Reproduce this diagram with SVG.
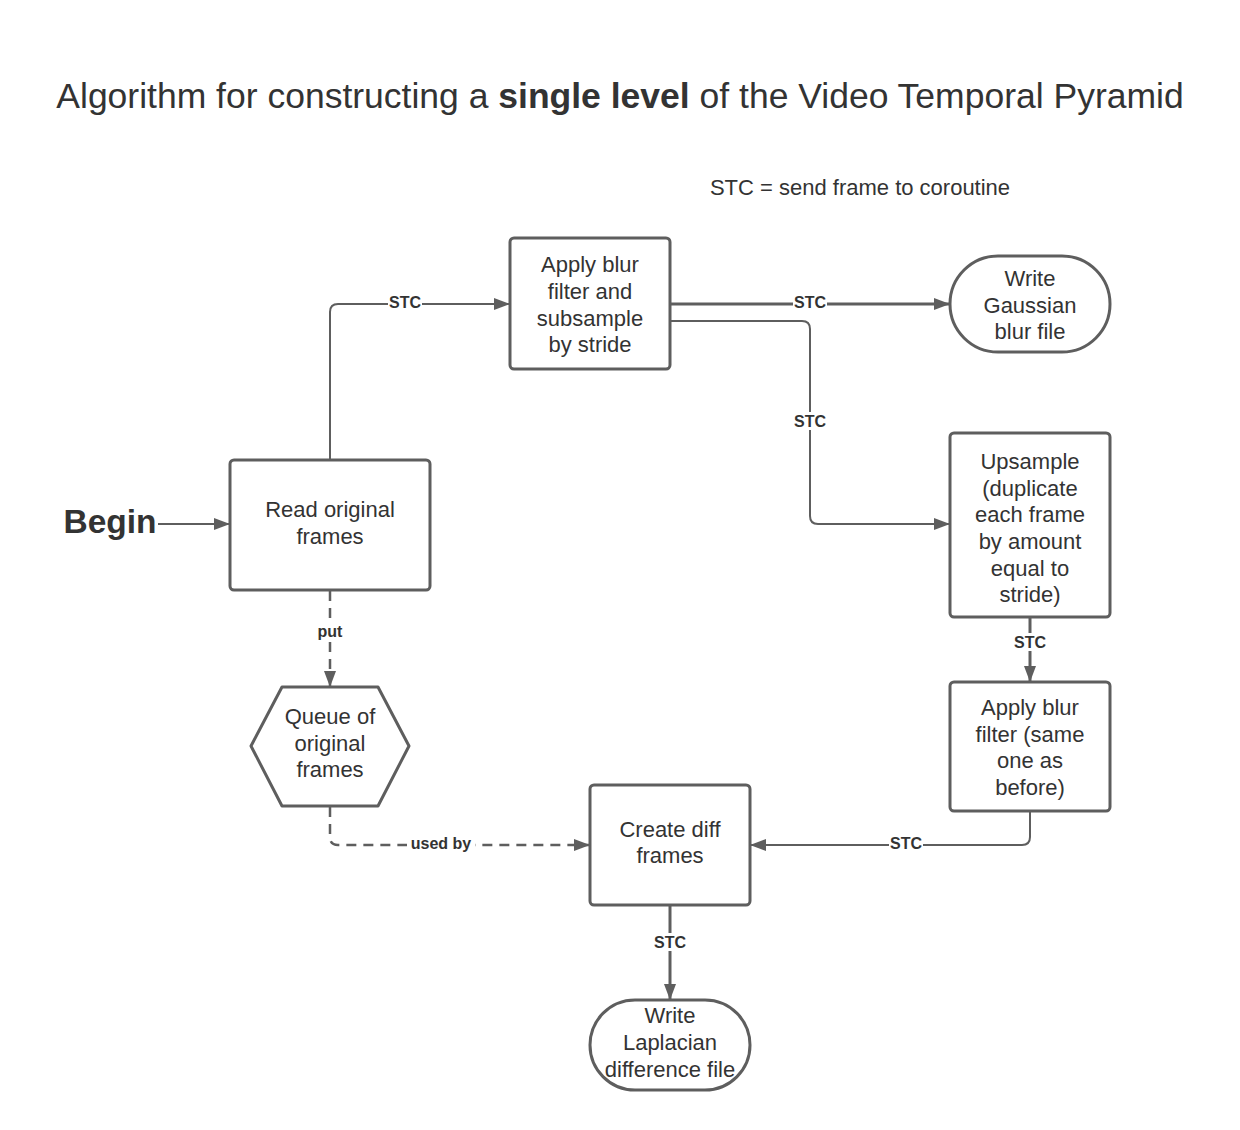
<svg xmlns="http://www.w3.org/2000/svg" width="1240" height="1130" viewBox="0 0 1240 1130">
<defs>
<style>
.n{fill:#fff;stroke:#5e5e5e;stroke-width:3}
.t{font-family:"Liberation Sans",Arial,sans-serif;font-size:22px;fill:#333;text-anchor:middle;dominant-baseline:central}
.l{font-family:"Liberation Sans",Arial,sans-serif;font-size:16px;font-weight:bold;fill:#333;text-anchor:middle;dominant-baseline:central}
.c{fill:none;stroke:#5e5e5e;stroke-width:2}
.k{fill:none;stroke:#5e5e5e;stroke-width:3}
.d{fill:none;stroke:#5e5e5e;stroke-width:2.5;stroke-dasharray:10,7}
.bg{fill:#fff}
</style>
<marker id="a" markerWidth="16" markerHeight="12" refX="15" refY="6" orient="auto" markerUnits="userSpaceOnUse">
<path d="M0,0 L16,6 L0,12 z" fill="#5e5e5e"/>
</marker>
</defs>
<rect width="1240" height="1130" fill="#fff"/>
<text x="620" y="96" font-family="Liberation Sans,Arial,sans-serif" font-size="35.5" fill="#333" text-anchor="middle" dominant-baseline="central">Algorithm for constructing a <tspan font-weight="bold">single level</tspan> of the Video Temporal Pyramid</text>
<text x="860" y="187" font-family="Liberation Sans,Arial,sans-serif" font-size="22" fill="#333" text-anchor="middle" dominant-baseline="central">STC = send frame to coroutine</text>
<text x="110" y="521" font-family="Liberation Sans,Arial,sans-serif" font-size="33.5" font-weight="bold" fill="#333" text-anchor="middle" dominant-baseline="central">Begin</text>

<g id="connectors">
<path class="c" d="M158,524 H229" marker-end="url(#a)"/>
<path class="c" d="M330,460 V312 Q330,304 338,304 H509" marker-end="url(#a)"/>
<rect class="bg" x="388" y="294" width="34" height="16"/>
<text class="l" x="405" y="302">STC</text>
<path class="k" d="M671,304 H949" marker-end="url(#a)"/>
<rect class="bg" x="793" y="294" width="34" height="16"/>
<text class="l" x="810" y="302">STC</text>
<path class="c" d="M671,321 H802 Q810,321 810,329 V516 Q810,524 818,524 H949" marker-end="url(#a)"/>
<rect class="bg" x="792" y="412" width="36" height="18"/>
<text class="l" x="810" y="421">STC</text>
<path class="k" d="M1030,618 V681" marker-end="url(#a)"/>
<rect class="bg" x="1012" y="633" width="36" height="18"/>
<text class="l" x="1030" y="642">STC</text>
<path class="c" d="M1030,812 V837 Q1030,845 1022,845 H751" marker-end="url(#a)"/>
<rect class="bg" x="889" y="835" width="34" height="16"/>
<text class="l" x="906" y="843">STC</text>
<path class="k" d="M670,906 V999" marker-end="url(#a)"/>
<rect class="bg" x="652" y="933" width="36" height="18"/>
<text class="l" x="670" y="942">STC</text>
<path class="d" d="M330,591 V686" marker-end="url(#a)"/>
<rect class="bg" x="316" y="622" width="28" height="18"/>
<text class="l" x="330" y="631">put</text>
<path class="d" d="M330,807 V837 Q330,845 338,845 H589" marker-end="url(#a)"/>
<rect class="bg" x="407" y="835" width="68" height="16"/>
<text class="l" x="441" y="843">used by</text>
</g>

<g id="read">
<rect class="n" x="230" y="460" width="200" height="130" rx="4"/>
<text class="t" x="330" y="509">Read original</text>
<text class="t" x="330" y="536">frames</text>
</g>
<g id="blur1">
<rect class="n" x="510" y="238" width="160" height="131" rx="4"/>
<text class="t" x="590" y="264">Apply blur</text>
<text class="t" x="590" y="291">filter and</text>
<text class="t" x="590" y="318">subsample</text>
<text class="t" x="590" y="344">by stride</text>
</g>
<g id="gauss">
<rect class="n" x="950" y="256" width="160" height="96" rx="48"/>
<text class="t" x="1030" y="278">Write</text>
<text class="t" x="1030" y="305">Gaussian</text>
<text class="t" x="1030" y="331">blur file</text>
</g>
<g id="upsample">
<rect class="n" x="950" y="433" width="160" height="184" rx="4"/>
<text class="t" x="1030" y="461">Upsample</text>
<text class="t" x="1030" y="488">(duplicate</text>
<text class="t" x="1030" y="514">each frame</text>
<text class="t" x="1030" y="541">by amount</text>
<text class="t" x="1030" y="568">equal to</text>
<text class="t" x="1030" y="594">stride)</text>
</g>
<g id="blur2">
<rect class="n" x="950" y="682" width="160" height="129" rx="4"/>
<text class="t" x="1030" y="707">Apply blur</text>
<text class="t" x="1030" y="734">filter (same</text>
<text class="t" x="1030" y="760">one as</text>
<text class="t" x="1030" y="787">before)</text>
</g>
<g id="diff">
<rect class="n" x="590" y="785" width="160" height="120" rx="4"/>
<text class="t" x="670" y="829">Create diff</text>
<text class="t" x="670" y="855">frames</text>
</g>
<g id="laplacian">
<rect class="n" x="590" y="1000" width="160" height="90" rx="45"/>
<text class="t" x="670" y="1015">Write</text>
<text class="t" x="670" y="1042">Laplacian</text>
<text class="t" x="670" y="1069">difference file</text>
</g>
<g id="queue">
<path class="n" stroke-linejoin="round" d="M251,746 L282,687 H378 L409,746 L378,806 H282 Z"/>
<text class="t" x="330" y="716">Queue of</text>
<text class="t" x="330" y="743">original</text>
<text class="t" x="330" y="769">frames</text>
</g>
</svg>
